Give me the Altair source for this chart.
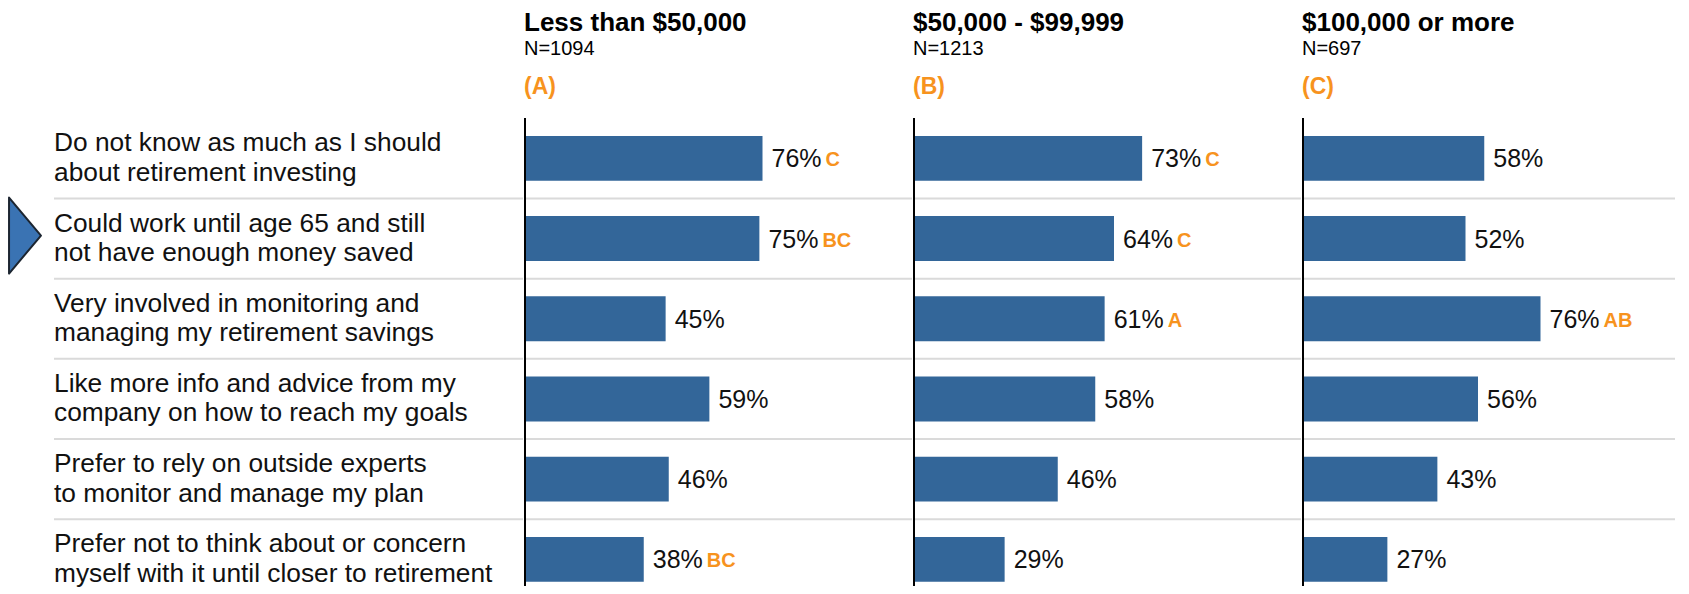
import altair as alt
import pandas as pd

# ---------------- data ----------------
line1 = [
    "Do not know as much as I should",
    "Could work until age 65 and still",
    "Very involved in monitoring and",
    "Like more info and advice from my",
    "Prefer to rely on outside experts",
    "Prefer not to think about or concern",
]
line2 = [
    "about retirement investing",
    "not have enough money saved",
    "managing my retirement savings",
    "company on how to reach my goals",
    "to monitor and manage my plan",
    "myself with it until closer to retirement",
]
groups = ["Less than $50,000", "$50,000 - $99,999", "$100,000 or more"]
sample_sizes = ["N=1094", "N=1213", "N=697"]
group_letters = ["(A)", "(B)", "(C)"]

vals_a = [76, 75, 45, 59, 46, 38]
vals_b = [73, 64, 61, 58, 46, 29]
vals_c = [58, 52, 76, 56, 43, 27]
sig_a = ["C", "BC", "", "", "", "BC"]
sig_b = ["C", "C", "A", "", "", ""]
sig_c = ["", "", "AB", "", "", ""]
highlight_row = 1

# ---------------- style ----------------
FONT = "Liberation Sans"
BAR = "#336699"
ORANGE = "#F7931E"
SEP = "#dadada"
PX = 3.125  # pixels per percentage point
H = 468
P_IN, P_OUT, ALIGN = 0.44, 0.138, 0.81
STEP = H / (6 - P_IN + 2 * P_OUT)

cats = [a + "\n" + b for a, b in zip(line1, line2)]
yscale = alt.Scale(domain=cats, paddingInner=P_IN, paddingOuter=P_OUT, align=ALIGN)
Y = alt.Y("cat:N", scale=yscale, axis=None)
Yc = alt.Y("cat:N", scale=yscale, axis=None, bandPosition=0.5)

# ---------------- label column ----------------
W0 = 515
lab_df = pd.DataFrame({"cat": cats})
labels = alt.Chart(lab_df).mark_text(
    align="left", baseline="alphabetic", font=FONT, fontSize=26.3,
    lineBreak="\n", lineHeight=29.5, dy=-7, color="#111111"
).encode(x=alt.value(46), y=Yc, text="cat:N")

sep_df = pd.DataFrame({"cat": cats[:-1]})
seps0 = alt.Chart(sep_df).mark_rule(color=SEP, strokeWidth=2, yOffset=STEP / 2).encode(
    y=Yc, x=alt.value(46), x2=alt.value(W0)
)
arrow_df = pd.DataFrame({"cat": [cats[highlight_row]]})
arrow = alt.Chart(arrow_df).mark_point(
    shape="M -0.42 -1 L 0.42 0 L -0.42 1 Z", filled=True, fill="#3a73b3",
    stroke="#1c2530", strokeWidth=2, strokeJoin="round", size=76 * 76, opacity=1, yOffset=-3
).encode(x=alt.value(17), y=Yc)

left = alt.layer(seps0, labels, arrow).properties(width=W0, height=H)


def panel(title, n, letter, vals, sigs, width):
    df = pd.DataFrame({
        "cat": cats,
        "value": vals,
        "label": [f"{v}%" for v in vals],
        "sig": sigs,
    })
    X = alt.X("value:Q", scale=alt.Scale(domain=[0, width / PX], nice=False, zero=True), axis=None)
    base = alt.Chart(df)
    seps = alt.Chart(sep_df).mark_rule(color=SEP, strokeWidth=2, yOffset=STEP / 2).encode(
        y=Yc, x=alt.value(0), x2=alt.value(width)
    )
    bars = base.mark_bar(color=BAR).encode(x=X, y=Y)
    vlab = base.mark_text(
        align="left", baseline="alphabetic", dx=9, dy=9, font=FONT, fontSize=25, color="#111111"
    ).encode(x=X, y=Yc, text="label:N")
    slab = base.mark_text(
        align="left", baseline="alphabetic", dx=63, dy=8, font=FONT, fontSize=20,
        fontWeight="bold", color=ORANGE
    ).encode(x=X, y=Yc, text="sig:N")
    axis_line = base.mark_rule(color="#000000", strokeWidth=1.5).encode(
        x=alt.value(0), y=alt.value(0), y2=alt.value(H)
    )
    hdr = pd.DataFrame({"t": [title], "n": [n], "l": [letter]})
    t1 = alt.Chart(hdr).mark_text(
        align="left", baseline="alphabetic", font=FONT, fontSize=26, fontWeight="bold", color="#000000"
    ).encode(x=alt.value(-1), y=alt.value(-87), text="t:N")
    t2 = alt.Chart(hdr).mark_text(
        align="left", baseline="alphabetic", font=FONT, fontSize=20, color="#000000"
    ).encode(x=alt.value(-1), y=alt.value(-63), text="n:N")
    t3 = alt.Chart(hdr).mark_text(
        align="left", baseline="alphabetic", font=FONT, fontSize=23, fontWeight="bold", color=ORANGE
    ).encode(x=alt.value(-1), y=alt.value(-24), text="l:N")
    return alt.layer(seps, bars, axis_line, vlab, slab, t1, t2, t3).properties(width=width, height=H)


pa = panel(groups[0], sample_sizes[0], group_letters[0], vals_a, sig_a, 387)
pb = panel(groups[1], sample_sizes[1], group_letters[1], vals_b, sig_b, 387)
pc = panel(groups[2], sample_sizes[2], group_letters[2], vals_c, sig_c, 372)

chart = alt.hconcat(
    left, pa, pb, pc, spacing=0,
    padding={"top": 2, "left": 0, "right": 0, "bottom": 0}
).configure_view(stroke=None).configure_concat(spacing=0)

chart.save("out.html", embed_options={"renderer": "svg", "actions": False})
